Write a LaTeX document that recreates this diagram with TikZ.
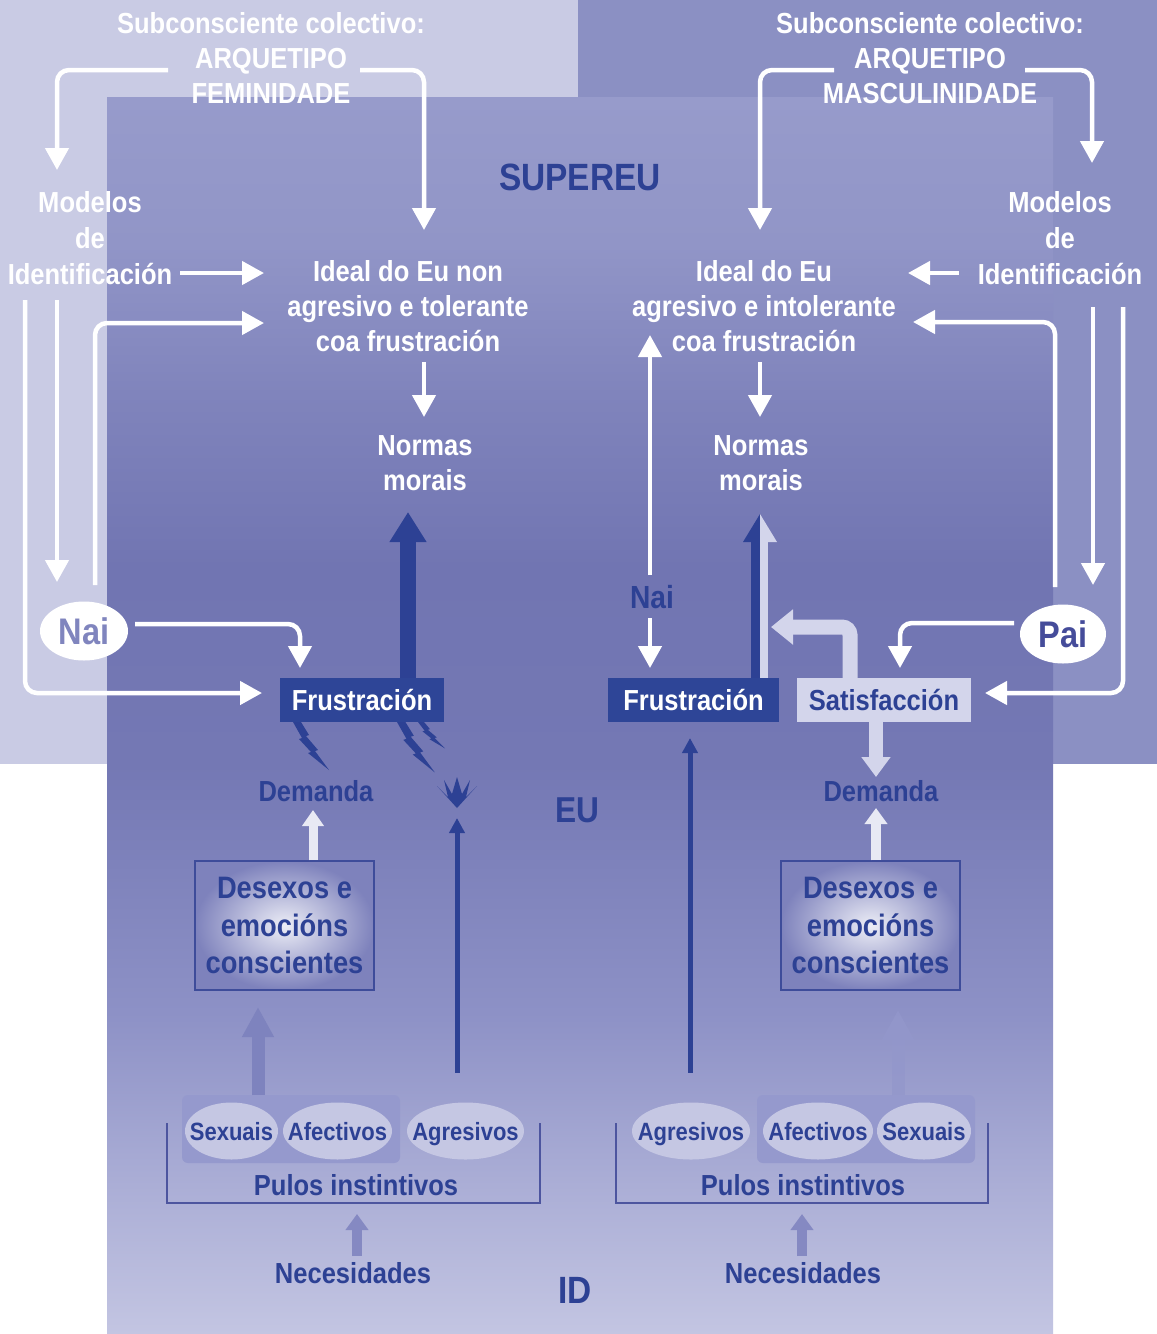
\documentclass[tikz,border=0pt]{standalone}
\usepackage{fontspec}
\setmainfont{Liberation Sans}[FakeStretch=0.88]
\usetikzlibrary{arrows.meta,shapes.geometric}
\definecolor{lightstrip}{HTML}{C9CBE4}
\definecolor{rightreg}{HTML}{8B90C3}
\definecolor{sA}{HTML}{C3C5E2}
\definecolor{sB}{HTML}{ABAED6}
\definecolor{sC}{HTML}{8D91C6}
\definecolor{sD}{HTML}{7478B4}
\definecolor{sE}{HTML}{7175B2}
\definecolor{sF}{HTML}{8084BC}
\definecolor{sG}{HTML}{9195C7}
\definecolor{sH}{HTML}{979BCB}
\definecolor{dkblue}{HTML}{2D4194}
\definecolor{frusfill}{HTML}{2E4597}
\definecolor{satfill}{HTML}{D3D5EB}
\definecolor{ellfill}{HTML}{C5C7E3}
\definecolor{grpfill}{HTML}{9599CD}
\definecolor{palearr}{HTML}{7E83BE}
\definecolor{neclav}{HTML}{8589C2}
\definecolor{nailav}{HTML}{8085BE}
\definecolor{paitxt}{HTML}{454C9A}
\definecolor{boxline}{HTML}{3E4C9A}
\definecolor{desin}{HTML}{ECEDF6}
\definecolor{desout}{HTML}{7E82BC}
\definecolor{brk}{HTML}{4D559F}
\definecolor{demarr}{HTML}{E8E9F4}
\pgfdeclareverticalshading{panelsh}{100bp}{color(0bp)=(sA); color(25bp)=(sA); color(31bp)=(sB); color(38bp)=(sC); color(48bp)=(sD); color(56bp)=(sE); color(63bp)=(sF); color(69bp)=(sG); color(75bp)=(sH); color(100bp)=(sH)}
\newcommand\lblfont{\fontsize{29}{35}\selectfont\bfseries}
\begin{document}
\begin{tikzpicture}[x=1pt,y=-1pt,
  lbl/.style={text=white, font=\lblfont, align=center, inner sep=0pt},
  dlbl/.style={text=dkblue, font=\lblfont, align=center, inner sep=0pt},
  warr/.style={draw=white, line width=4.5pt, rounded corners=12pt, -{Triangle[length=22pt,width=23pt]}},
  parent/.style={ellipse, fill=white, inner sep=0pt, minimum width=88pt, minimum height=59pt, font=\fontsize{37}{37}\selectfont\bfseries},
  boxf/.style={fill=frusfill, text=white, font=\lblfont, minimum height=44pt, inner sep=0pt},
  boxs/.style={fill=satfill, text=dkblue, font=\lblfont, minimum height=44pt, inner sep=0pt},
  desbox/.style={draw=boxline, line width=1.5pt, inner color=desin, outer color=desout, minimum width=179pt, minimum height=129pt, text=dkblue, font=\fontsize{31}{37.5}\selectfont\bfseries, align=center, inner sep=0pt},
  pulstxt/.style={inner sep=0pt, anchor=base, text=dkblue, font=\fontsize{25}{25}\selectfont\bfseries},
  pulsell/.style={fill=ellfill},
  grp/.style={fill=grpfill, rounded corners=6pt},
  bracketline/.style={draw=brk, line width=1.6pt},
  bolt/.pic={\fill[dkblue] (0,0) -- (8,0) -- (16,13) -- (13,14) -- (25,28) -- (22,29) -- (36,48) -- (15,31) -- (18,30) -- (6,17) -- (9,16) -- cycle;}
]
% ---------- background ----------
\fill[white] (0,0) rectangle (1157,1334);
\useasboundingbox (0,0) rectangle (1157,1334);
\fill[lightstrip] (0,0) rectangle (578,764);
\fill[rightreg] (578,0) rectangle (1157,764);
\shade[shading=panelsh] (107,97) rectangle (1053,1334);

% ---------- nodes ----------
\node[lbl] (arqF) at (271,58) {Subconsciente colectivo:\\ARQUETIPO\\FEMINIDADE};
\node[lbl] (arqM) at (930,58) {Subconsciente colectivo:\\ARQUETIPO\\MASCULINIDADE};
\node[dlbl, font=\fontsize{38}{38}\selectfont\bfseries] (super) at (580,177) {SUPEREU};
\node[lbl, font=\fontsize{29}{36}\selectfont\bfseries] (modF) at (90,238) {Modelos\\de\\Identificación};
\node[lbl, font=\fontsize{29}{36}\selectfont\bfseries] (modM) at (1060,238) {Modelos\\de\\Identificación};
\node[lbl] (idealF) at (408,306) {Ideal do Eu non\\agresivo e tolerante\\coa frustración};
\node[lbl] (idealM) at (764,306) {Ideal do Eu\\agresivo e intolerante\\coa frustración};
\node[lbl] (normF) at (425,463) {Normas\\morais};
\node[lbl] (normM) at (761,463) {Normas\\morais};
\node[parent, text=nailav] (naiF) at (84,631) {Nai};
\node[parent, text=paitxt, minimum width=86pt] (paiM) at (1063,634) {Pai};
\node[dlbl, font=\fontsize{32}{32}\selectfont\bfseries] (naiM) at (652,597) {Nai};
\node[boxf, minimum width=164pt] (frF) at (362,700) {Frustración};
\node[boxf, minimum width=171pt] (frM) at (693.5,700) {Frustración};
\node[boxs, minimum width=174pt] (sat) at (884,700) {Satisfacción};
\node[dlbl] (demF) at (316,791) {Demanda};
\node[dlbl] (demM) at (881,791) {Demanda};
\node[dlbl, font=\fontsize{36}{36}\selectfont\bfseries] (eu) at (577,810) {EU};
\node[desbox] (desF) at (284.5,925.5) {Desexos e\\emocións\\conscientes};
\node[desbox] (desM) at (870.5,925.5) {Desexos e\\emocións\\conscientes};

% instinct groups
\fill[grp] (182,1095) rectangle (400,1163);
\fill[grp] (757,1095) rectangle (975,1163);
\fill[pulsell] (231.5,1131) ellipse [x radius=46.5pt, y radius=28.5pt];
\fill[pulsell] (337.5,1131) ellipse [x radius=54.5pt, y radius=28.5pt];
\fill[pulsell] (465.5,1131) ellipse [x radius=58.5pt, y radius=28.5pt];
\fill[pulsell] (691,1131) ellipse [x radius=59pt, y radius=28.5pt];
\fill[pulsell] (818,1131) ellipse [x radius=55pt, y radius=28.5pt];
\fill[pulsell] (924,1131) ellipse [x radius=47pt, y radius=28.5pt];
\node[pulstxt] (sexF) at (231.5,1140) {Sexuais};
\node[pulstxt] (afeF) at (337.5,1140) {Afectivos};
\node[pulstxt] (agrF) at (465.5,1140) {Agresivos};
\node[pulstxt] (agrM) at (691,1140) {Agresivos};
\node[pulstxt] (afeM) at (818,1140) {Afectivos};
\node[pulstxt] (sexM) at (924,1140) {Sexuais};
\draw[bracketline] (167,1123) -- (167,1203) -- (540,1203) -- (540,1123);
\draw[bracketline] (616,1123) -- (616,1203) -- (988,1203) -- (988,1123);
\node[dlbl] (pulF) at (356,1185) {Pulos instintivos};
\node[dlbl] (pulM) at (803,1185) {Pulos instintivos};
\node[dlbl] (necF) at (353,1273) {Necesidades};
\node[dlbl] (necM) at (803,1273) {Necesidades};
\node[dlbl, font=\fontsize{38}{38}\selectfont\bfseries] (id) at (575,1290) {ID};

% ---------- coordinates for free ends ----------
\coordinate (a1s) at (168,70);  \coordinate (a1e) at (57,170);
\coordinate (a2s) at (360,70);  \coordinate (a2e) at (424,230);
\coordinate (a3s) at (834,70);  \coordinate (a3e) at (760,230);
\coordinate (a4s) at (1025,70); \coordinate (a4e) at (1092,163);
\coordinate (l1s) at (180,273); \coordinate (l1e) at (264,273);
\coordinate (l2s) at (95,585);  \coordinate (l2e) at (264,323);
\coordinate (l3s) at (25,300);  \coordinate (l3e) at (262,693);
\coordinate (l4s) at (57,300);  \coordinate (l4e) at (57,582);
\coordinate (l5s) at (135,624); \coordinate (l5e) at (300,668);
\coordinate (r1s) at (959,273); \coordinate (r1e) at (908,273);
\coordinate (r2s) at (1055,587);\coordinate (r2e) at (913,322);
\coordinate (r3s) at (1093,307);\coordinate (r3e) at (1093,585);
\coordinate (r4s) at (1123,307);\coordinate (r4e) at (985,693);
\coordinate (r5s) at (1014,623);\coordinate (r5e) at (900,668);
\coordinate (n1s) at (650,618); \coordinate (n1e) at (650,668);
\coordinate (n2s) at (650,575); \coordinate (n2e) at (650,335);
\coordinate (iFs) at (424,362); \coordinate (iFe) at (424,417);
\coordinate (iMs) at (760,362); \coordinate (iMe) at (760,417);
\coordinate (blF) at (408,512);
\coordinate (sc) at (850,627);  \coordinate (sl) at (771,627);
\coordinate (sd) at (876,777);
\coordinate (dMe) at (876,808);
\coordinate (dFe) at (313,810);
\coordinate (gF) at (258,1007);
\coordinate (gM) at (898,1010);
\coordinate (nF) at (357,1214);
\coordinate (nM) at (802,1214);
\coordinate (agFe) at (457,818);
\coordinate (agMe) at (690,738);

% ---------- white connectors ----------
\draw[warr] (a1s) -| (a1e);
\draw[warr] (a2s) -| (a2e);
\draw[warr] (a3s) -| (a3e);
\draw[warr] (a4s) -| (a4e);
\draw[warr] (l1s) -- (l1e);
\draw[warr] (l2s) |- (l2e);
\draw[warr] (l3s) |- (l3e);
\draw[warr] (l4s) -- (l4e);
\draw[warr] (l5s) -| (l5e);
\draw[warr] (r1s) -- (r1e);
\draw[warr] (r2s) |- (r2e);
\draw[warr] (r3s) -- (r3e);
\draw[warr] (r4s) |- (r4e);
\draw[warr] (r5s) -| (r5e);
\draw[warr] (n1s) -- (n1e);
\draw[warr] (n2s) -- (n2e);
\draw[warr] (iFs) -- (iFe);
\draw[warr] (iMs) -- (iMe);

% ---------- frustration / satisfaction arrows ----------
\draw[dkblue, line width=16pt, -{Triangle[length=30pt,width=35pt]}] (frF.north -| blF) -- (blF);
% combined arrow (blue + light)
\fill[dkblue] (751,678) rectangle (760,541);
\fill[dkblue] (743,542) -- (760,514) -- (760,542) -- cycle;
\fill[satfill] (760,678) rectangle (768,541);
\fill[satfill] (760,514) -- (777,542) -- (760,542) -- cycle;
\draw[satfill, line width=15pt, rounded corners=8pt, -{Triangle[length=22pt,width=34pt]}] (sat.north -| sc) |- (sl);
\draw[satfill, line width=14pt, -{Triangle[length=20pt,width=28pt]}] (sat.south -| sd) -- (sd);
\draw[demarr, line width=10pt, -{Triangle[length=16pt,width=22pt]}] (desM.north -| dMe) -- (dMe);
\draw[demarr, line width=9pt, -{Triangle[length=16pt,width=21pt]}] (desF.north -| dFe) -- (dFe);

% lightning bolts and burst
\pic at (293,722) {bolt};
\pic[scale=1.05] at (397,722) {bolt};
\pic[xscale=0.75, yscale=0.55] at (418,722) {bolt};
\fill[dkblue] (457,808) -- (437,786) -- (448,797) -- (444,780) -- (452,794) -- (457,777) -- (462,794) -- (470,780) -- (466,797) -- (477,786) -- cycle;

% ---------- lower arrows ----------
\draw[dkblue, line width=5pt, -{Triangle[length=15pt,width=15pt]}] (agrF.north -| agFe) ++(0,-49) -- (agFe);
\draw[dkblue, line width=5pt, -{Triangle[length=15pt,width=15pt]}] (agrM.north -| agMe) ++(0,-49) -- (agMe);
\draw[palearr, line width=13pt, -{Triangle[length=30pt,width=30pt]}] (258,1095) -- (gF);
\draw[grpfill!70!sC, opacity=0.8, line width=13pt, -{Triangle[length=30pt,width=30pt]}] (898,1095) -- (gM);
\draw[neclav, line width=10pt, -{Triangle[length=16pt,width=22pt]}] (necF.north -| nF) ++(0,-6) -- (nF);
\draw[neclav, line width=10pt, -{Triangle[length=16pt,width=22pt]}] (necM.north -| nM) ++(0,-6) -- (nM);
\end{tikzpicture}
\end{document}
